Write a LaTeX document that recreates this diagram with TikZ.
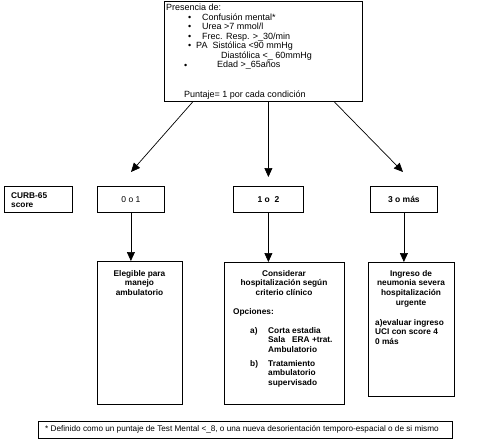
\documentclass[tikz,border=0pt]{standalone}
\usepackage{fontspec}
\setmainfont{Liberation Sans}
\usetikzlibrary{arrows.meta,positioning}

\begin{document}
\begin{tikzpicture}[x=1pt,y=-1pt,>={Triangle[width=8pt,length=9pt]},line cap=round,
    caja/.style={draw,line width=0.8pt,anchor=north west,inner sep=0pt},
    chico/.style={font=\fontsize{9}{9.5}\selectfont,inner sep=0pt,anchor=base west},
    negrita/.style={font=\fontsize{8.3}{9.6}\selectfont\bfseries,inner sep=0pt,align=center,anchor=north},
    izq/.style={negrita,align=left,anchor=north west},
    flecha/.style={->,line width=0.7pt}]
  \useasboundingbox (0,0) rectangle (482,440);

  % criterios CURB-65
  \node[caja,line width=1.1pt,minimum width=198pt,minimum height=100pt] (crit) at (164,1) {};
  \node[chico] (pres) at (166,10) {Presencia de:};
  \foreach \x/\y [count=\i] in {188/20,188/29.5,188/39,188/48.5,184/68}
    \node[chico] (bala\i) at (\x,\y) {\textbullet};
  \foreach \x/\y/\t [count=\i] in {202/20/{Confusión mental*},202/29.5/{Urea >7 mmol/l},
      202/39/{Frec. Resp. >\_30/min},196/48.5/{PA\ \ Sistólica <90 mmHg},
      221/58/{Diastólica <\_ 60mmHg},217/67.5/{Edad >\_65años}}
    \node[chico] (item\i) at (\x,\y) {\t};
  \node[chico] (puntaje) at (184,97) {Puntaje= 1 por cada condición};

  % fila de puntajes
  \node[caja] (curb) at (4,186) [minimum width=68pt,minimum height=26pt] {};
  \node[izq] (curbtxt) at (11,192) {CURB-65\\score};
  \node[caja,font=\fontsize{8.5}{10}\selectfont] (bajo) at (97,186) [minimum width=67pt,minimum height=26pt] {0 o 1};
  \node[caja,font=\fontsize{8.5}{10}\selectfont\bfseries] (medio) at (233,186) [minimum width=70pt,minimum height=26pt] {1 o\ \ 2};
  \node[caja,font=\fontsize{8.5}{10}\selectfont\bfseries] (alto) at (370,186) [minimum width=67pt,minimum height=26pt] {3 o más};

  % conductas
  \node[caja,minimum width=85pt,minimum height=143pt] (elegible) at (97,261) {};
  \node[negrita] (elegtxt) at (139.5,270) {Elegible para\\manejo\\ambulatorio};
  \node[caja,minimum width=120pt,minimum height=142pt] (hosp) at (224,262) {};
  \node[negrita] (hosptxt) at (284,270) {Considerar\\hospitalización según\\criterio clínico};
  \node[izq] (opc) at (233,308) {Opciones:};
  \node[izq] (opca) at (250,327) {a)};
  \node[izq] (opcatxt) at (268,327) {Corta estadia\\Sala\ \ \ ERA +trat.\\Ambulatorio};
  \node[izq] (opcb) at (250,360) {b)};
  \node[izq] (opcbtxt) at (268,360) {Tratamiento\\ambulatorio\\supervisado};
  \node[caja,minimum width=86pt,minimum height=134pt] (uci) at (368,262) {};
  \node[negrita] (ucitxt) at (411,270) {Ingreso de\\neumonia severa\\hospitalización\\urgente};
  \node[izq] (ucia) at (375,319) {a)evaluar ingreso\\UCI con score 4\\0 más};

  % nota al pie
  \node[caja,minimum width=414pt,minimum height=17pt] (nota) at (38,421) {};
  \node[font=\fontsize{8.2}{10}\selectfont,inner sep=0pt,anchor=west] (notatxt) at (45,429.5)
    {* Definido como un puntaje de Test Mental <\_8, o una nueva desorientación temporo-espacial o de si mismo};

  % flechas
  \coordinate (finIzq) at (131,172);
  \coordinate (finDer) at (403,172);
  \draw[flecha] ([xshift=-71pt]crit.south) -- (finIzq);
  \draw[flecha,shorten >=9pt] (crit.south -| medio) -- (medio.north);
  \draw[flecha] ([xshift=71pt]crit.south) -- (finDer);
  \draw[flecha] (bajo.south) -- (bajo.south |- elegible.north);
  \draw[flecha] (medio.south) -- (medio.south |- hosp.north);
  \draw[flecha] (alto.south) -- (alto.south |- uci.north);
\end{tikzpicture}
\end{document}
